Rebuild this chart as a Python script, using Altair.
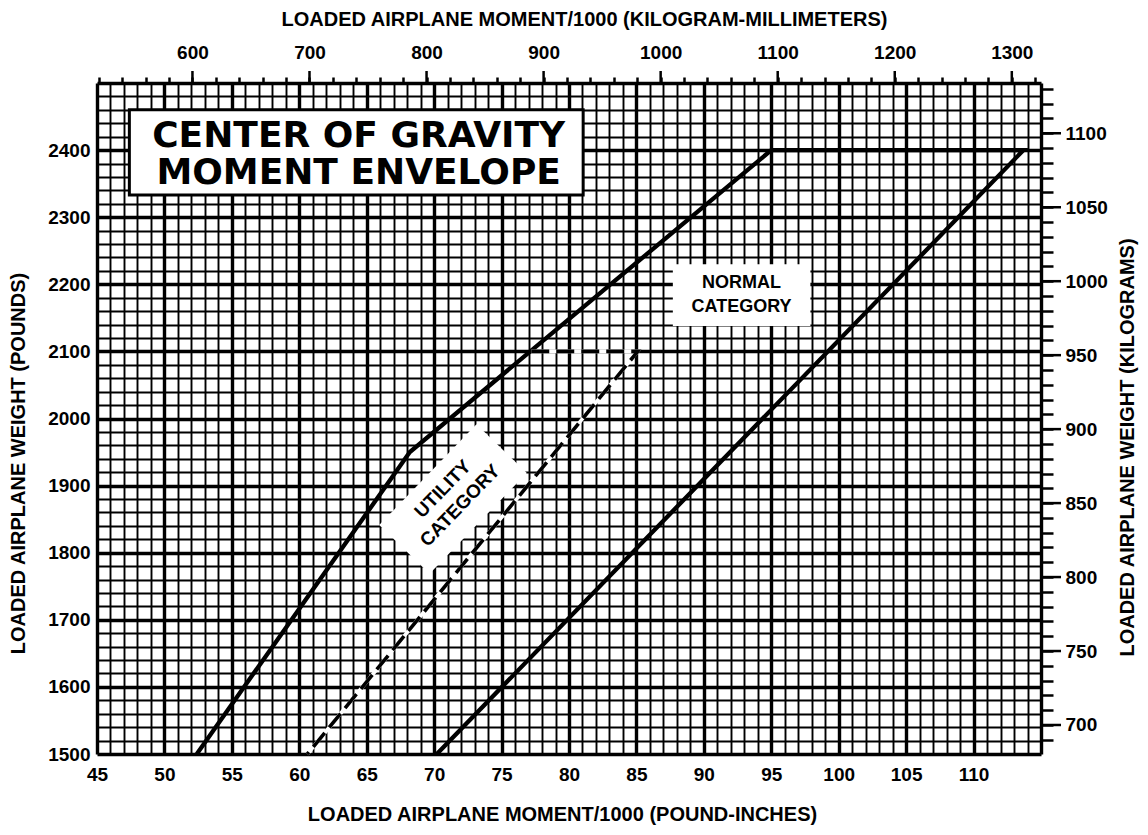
import altair as alt
import pandas as pd

# ---- data ----
# Normal category envelope (solid), moment/1000 lb-in vs weight lb
normal_moment = [52.4, 68.2, 95.0, 113.7, 70.2]
normal_weight = [1500, 1950, 2400, 2400, 1500]
# Utility category boundary (dashed)
utility_moment = [77.2, 85.1, 60.6]
utility_weight = [2100, 2100, 1500]

# axis ranges and tick values
x_domain = [45, 115]
y_domain = [1500, 2500]
x_ticks = list(range(45, 116))            # grid every 1 (labels every 5)
y_ticks = list(range(1500, 2501, 20))     # grid every 20 (labels every 100)
top_ticks = list(range(520, 1321, 20))    # kg-mm minor ticks
top_major = list(range(600, 1301, 100))
right_ticks = list(range(680, 1131, 10))  # kg minor ticks
right_major = list(range(700, 1101, 50))

LBIN_TO_KGMM = 0.45359237 * 25.4
LB_TO_KG = 0.45359237

# annotations (data coordinates; text anchors are the first line's centre)
title_lines = ["CENTER OF GRAVITY", "MOMENT ENVELOPE"]
title_box = dict(moment=47.4, moment2=81.05, weight=2333, weight2=2460)
title_pos = dict(moment=64.4, weight=2421)
normal_text = ["NORMAL", "CATEGORY"]
normal_box = dict(moment=87.7, moment2=97.9, weight=2138, weight2=2230)
normal_pos = dict(moment=92.8, weight=2202)
utility_text = ["UTILITY", "CATEGORY"]
utility_pos = dict(moment=70.65, weight=1895)
utility_patch_pos = dict(moment=71.4, weight=1880)

W, H = 944, 671
FONT = "Liberation Sans"
TFONT = "DejaVu Sans"

xs = alt.Scale(domain=x_domain, nice=False, zero=False)
ys = alt.Scale(domain=y_domain, nice=False, zero=False)
kgmm_scale = alt.Scale(domain=[x_domain[0] * LBIN_TO_KGMM, x_domain[1] * LBIN_TO_KGMM], nice=False, zero=False)
kg_scale = alt.Scale(domain=[y_domain[0] * LB_TO_KG, y_domain[1] * LB_TO_KG], nice=False, zero=False)

lab = dict(labelFont=FONT, labelFontSize=19, labelFontWeight="bold", labelColor="black",
           labelOverlap=False, labelBound=False, labelFlush=False, format="d")
tit = dict(titleFont=FONT, titleFontSize=20, titleFontWeight="bold", titleColor="black",
           titleBaseline="middle")

x_axis = alt.Axis(
    orient="bottom", values=x_ticks, grid=True, gridColor="black",
    gridWidth={"condition": {"test": "datum.value % 5 === 0", "value": 3.4}, "value": 1.9},
    ticks=False, domain=False, labelPadding=11,
    labelExpr="datum.value % 5 === 0 && datum.value < 115 ? datum.label : ''",
    title="LOADED AIRPLANE MOMENT/1000 (POUND-INCHES)", titleX=465, titleY=60, **lab, **tit)
y_axis = alt.Axis(
    orient="left", values=y_ticks, grid=True, gridColor="black",
    gridWidth={"condition": {"test": "datum.value % 100 === 0", "value": 3.4}, "value": 1.9},
    ticks=False, domain=False, labelPadding=7,
    labelExpr="datum.value % 100 === 0 && datum.value < 2500 ? datum.label : ''",
    title="LOADED AIRPLANE WEIGHT (POUNDS)", titleX=-79, titleY=380, titleAngle=270, **lab, **tit)
top_axis = alt.Axis(
    orient="top", values=top_ticks, grid=False, domain=False, ticks=True, tickSize=6,
    tickWidth=2.5, tickColor="black", labelPadding=15,
    labelExpr="datum.value % 100 === 0 ? datum.label : ''",
    title="LOADED AIRPLANE MOMENT/1000 (KILOGRAM-MILLIMETERS)", titleX=487, titleY=-64, **lab, **tit)
right_axis = alt.Axis(
    orient="right", values=right_ticks, grid=False, domain=False, ticks=True, tickSize=12,
    tickWidth=2.5, tickColor="black", labelPadding=12,
    labelExpr="datum.value % 50 === 0 ? datum.label : ''",
    title="LOADED AIRPLANE WEIGHT (KILOGRAMS)", titleX=86, titleY=364, titleAngle=270, **lab, **tit)

X = lambda f="moment": alt.X(f"{f}:Q", scale=xs, axis=x_axis)
Y = lambda f="weight": alt.Y(f"{f}:Q", scale=ys, axis=y_axis)

normal_df = pd.DataFrame({"moment": normal_moment, "weight": normal_weight,
                          "order": list(range(len(normal_moment)))})
utility_df = pd.DataFrame({"moment": utility_moment, "weight": utility_weight,
                           "order": list(range(len(utility_moment)))})

title_rect = alt.Chart(pd.DataFrame([title_box])).mark_rect(
    fill="white", stroke="black", strokeWidth=3).encode(
    x=X(), x2="moment2:Q", y=Y(), y2="weight2:Q")
normal_rect = alt.Chart(pd.DataFrame([normal_box])).mark_rect(fill="white").encode(
    x=X(), x2="moment2:Q", y=Y(), y2="weight2:Q")
utility_patch = alt.Chart(pd.DataFrame([utility_patch_pos])).mark_point(
    shape="M-1,-0.5L1,-0.5L1,0.5L-1,0.5Z", filled=True, fill="white", opacity=1,
    strokeWidth=0, size=19600, angle=314).encode(x=X(), y=Y())

normal_line = alt.Chart(normal_df).mark_line(color="black", strokeWidth=4.3).encode(
    x=X(), y=Y(), order="order:Q")
utility_under = alt.Chart(utility_df).mark_line(color="white", strokeWidth=3.6).encode(
    x=X(), y=Y(), order="order:Q")
utility_line = alt.Chart(utility_df).mark_line(
    color="black", strokeWidth=3.6, strokeDash=[18, 7]).encode(
    x=X(), y=Y(), order="order:Q")

title_text = alt.Chart(pd.DataFrame([dict(title_pos, t="\n".join(title_lines))])).mark_text(
    font=TFONT, fontSize=36, fontWeight="bold", color="black", lineBreak="\n",
    lineHeight=37, align="center", baseline="middle").encode(x=X(), y=Y(), text="t:N")
normal_label = alt.Chart(pd.DataFrame([dict(normal_pos, t="\n".join(normal_text))])).mark_text(
    font=FONT, fontSize=18, fontWeight="bold", color="black", lineBreak="\n",
    lineHeight=24, align="center", baseline="middle").encode(x=X(), y=Y(), text="t:N")
utility_label = alt.Chart(pd.DataFrame([dict(utility_pos, t="\n".join(utility_text))])).mark_text(
    font=FONT, fontSize=19, fontWeight="bold", color="black", lineBreak="\n",
    lineHeight=24, align="center", baseline="middle", angle=314).encode(x=X(), y=Y(), text="t:N")

base = alt.layer(title_rect, normal_rect, utility_patch, normal_line, utility_under,
                 utility_line, title_text, normal_label, utility_label)

# secondary (metric) axes
KX = lambda: alt.X("kgmm:Q", scale=kgmm_scale, axis=top_axis)
KY = lambda: alt.Y("kg:Q", scale=kg_scale, axis=right_axis)
anchor = alt.Chart(pd.DataFrame({
    "kgmm": [x_domain[0] * LBIN_TO_KGMM, x_domain[1] * LBIN_TO_KGMM],
    "kg": [y_domain[0] * LB_TO_KG, y_domain[1] * LB_TO_KG]})).mark_point(opacity=0).encode(
    x=KX(), y=KY())
top_long = alt.Chart(pd.DataFrame({"kgmm": top_major})).mark_rule(
    color="black", strokeWidth=2.5).encode(x=KX(), y=alt.value(-12), y2=alt.value(0))
right_long = alt.Chart(pd.DataFrame({"kg": right_major})).mark_rule(
    color="black", strokeWidth=2.5).encode(y=KY(), x=alt.value(W), x2=alt.value(W + 20))
metric = alt.layer(anchor, top_long, right_long)

chart = alt.layer(base, metric).resolve_scale(x="independent", y="independent").properties(
    width=W, height=H, autosize="none",
    padding={"left": 89, "top": 75, "right": 99, "bottom": 73},
).configure_view(stroke="black", strokeWidth=3).configure(background="white")

chart.save("out.html", embed_options={"renderer": "svg", "actions": False})
